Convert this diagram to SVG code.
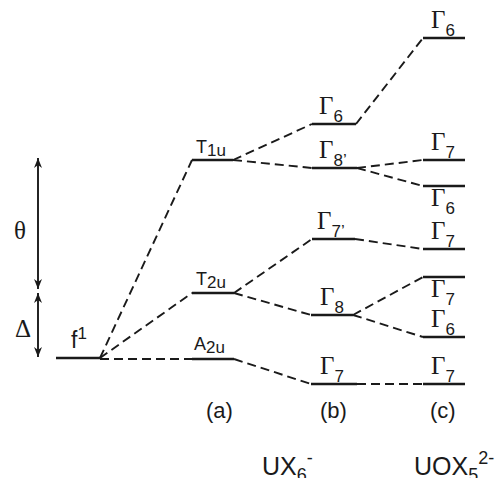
<svg xmlns="http://www.w3.org/2000/svg" width="502" height="478" viewBox="0 0 502 478">
<defs>
<marker id="ah" viewBox="0 0 10 8" refX="10" refY="4" markerWidth="10" markerHeight="8" markerUnits="userSpaceOnUse" orient="auto-start-reverse">
<path d="M0,0 L10,4 L0,8 L3,4 z" fill="#1a1a1a"/>
</marker>
</defs>
<style>
.lv{stroke:#1a1a1a;stroke-width:2.4;fill:none}
.dc{stroke:#1a1a1a;stroke-width:1.9;fill:none;stroke-dasharray:9 5}
.ar{stroke:#1a1a1a;stroke-width:1.9;fill:none}
.g{font-family:"Liberation Serif",serif;font-size:25px;fill:#1a1a1a}
.s{font-family:"Liberation Sans",sans-serif;fill:#1a1a1a}
.sub{font-family:"Liberation Sans",sans-serif;font-size:17px}
</style>
<rect width="502" height="478" fill="#fff"/>
<g id="connectors">
<line class="dc" x1="100" y1="358" x2="192" y2="160"/>
<line class="dc" x1="100" y1="358" x2="192" y2="293"/>
<line class="dc" x1="100" y1="359" x2="192" y2="359"/>
<line class="dc" x1="233" y1="160" x2="312" y2="124"/>
<line class="dc" x1="233" y1="160" x2="312" y2="168"/>
<line class="dc" x1="234" y1="293" x2="312" y2="239"/>
<line class="dc" x1="234" y1="293" x2="311" y2="315"/>
<line class="dc" x1="234" y1="359" x2="311" y2="384"/>
<line class="dc" x1="356" y1="124" x2="423" y2="38"/>
<line class="dc" x1="357" y1="168" x2="423" y2="160"/>
<line class="dc" x1="357" y1="168" x2="423" y2="186"/>
<line class="dc" x1="355" y1="239" x2="423" y2="249"/>
<line class="dc" x1="353" y1="315" x2="423" y2="277"/>
<line class="dc" x1="353" y1="315" x2="423" y2="337"/>
<line class="dc" x1="357" y1="384" x2="423" y2="384"/>
</g>
<g id="scale">
<line class="ar" x1="38" y1="158" x2="38" y2="289" marker-start="url(#ah)" marker-end="url(#ah)"/>
<line class="ar" x1="38" y1="293" x2="38" y2="357" marker-start="url(#ah)" marker-end="url(#ah)"/>
<text class="g" x="14" y="239" font-size="24">θ</text>
<text class="g" x="15" y="337" font-size="26">Δ</text>
</g>
<g id="f1">
<line class="lv" x1="56" y1="358" x2="100" y2="358"/>
<text class="s" x="71" y="348" font-size="23">f<tspan font-size="17" dy="-9">1</tspan></text>
</g>
<g id="T1u">
<line class="lv" x1="192" y1="160" x2="233" y2="160"/>
<text class="s" x="196" y="153" font-size="18">T<tspan class="sub" dy="3">1u</tspan></text>
</g>
<g id="T2u">
<line class="lv" x1="192" y1="293" x2="234" y2="293"/>
<text class="s" x="196" y="285" font-size="18">T<tspan class="sub" dy="3">2u</tspan></text>
</g>
<g id="A2u">
<line class="lv" x1="192" y1="359" x2="234" y2="359"/>
<text class="s" x="194" y="350" font-size="18">A<tspan class="sub" dy="3">2u</tspan></text>
</g>
<g id="b-G6">
<line class="lv" x1="312" y1="124" x2="356" y2="124"/>
<text class="g" x="319" y="114">Γ<tspan class="sub" dy="8">6</tspan></text>
</g>
<g id="b-G8p">
<line class="lv" x1="312" y1="168" x2="357" y2="168"/>
<text class="g" x="319" y="158">Γ<tspan class="sub" dy="8">8’</tspan></text>
</g>
<g id="b-G7p">
<line class="lv" x1="312" y1="239" x2="355" y2="239"/>
<text class="g" x="317" y="229">Γ<tspan class="sub" dy="8">7’</tspan></text>
</g>
<g id="b-G8">
<line class="lv" x1="311" y1="315" x2="353" y2="315"/>
<text class="g" x="320" y="305">Γ<tspan class="sub" dy="8">8</tspan></text>
</g>
<g id="b-G7">
<line class="lv" x1="311" y1="384" x2="357" y2="384"/>
<text class="g" x="320" y="374">Γ<tspan class="sub" dy="8">7</tspan></text>
</g>
<g id="c-G6a">
<line class="lv" x1="423" y1="38" x2="465" y2="38"/>
<text class="g" x="431" y="28">Γ<tspan class="sub" dy="8">6</tspan></text>
</g>
<g id="c-G7a">
<line class="lv" x1="423" y1="160" x2="465" y2="160"/>
<text class="g" x="431" y="150">Γ<tspan class="sub" dy="8">7</tspan></text>
</g>
<g id="c-G6b">
<line class="lv" x1="423" y1="186" x2="465" y2="186"/>
<text class="g" x="431" y="206">Γ<tspan class="sub" dy="8">6</tspan></text>
</g>
<g id="c-G7b">
<line class="lv" x1="423" y1="249" x2="465" y2="249"/>
<text class="g" x="431" y="239">Γ<tspan class="sub" dy="8">7</tspan></text>
</g>
<g id="c-G7c">
<line class="lv" x1="423" y1="277" x2="465" y2="277"/>
<text class="g" x="431" y="297">Γ<tspan class="sub" dy="8">7</tspan></text>
</g>
<g id="c-G6c">
<line class="lv" x1="423" y1="337" x2="465" y2="337"/>
<text class="g" x="431" y="327">Γ<tspan class="sub" dy="8">6</tspan></text>
</g>
<g id="c-G7d">
<line class="lv" x1="423" y1="384" x2="465" y2="384"/>
<text class="g" x="431" y="374">Γ<tspan class="sub" dy="8">7</tspan></text>
</g>
<g id="labels">
<text class="s" x="206" y="418" font-size="22">(a)</text>
<text class="s" x="320" y="418" font-size="22">(b)</text>
<text class="s" x="430" y="418" font-size="22">(c)</text>
<text class="s" x="262" y="475" font-size="25">UX<tspan font-size="18" dy="6">6</tspan><tspan font-size="18" dy="-17">-</tspan></text>
<text class="s" x="414" y="475" font-size="25">UOX<tspan font-size="18" dy="6">5</tspan><tspan font-size="18" dy="-17">2-</tspan></text>
</g>
</svg>
